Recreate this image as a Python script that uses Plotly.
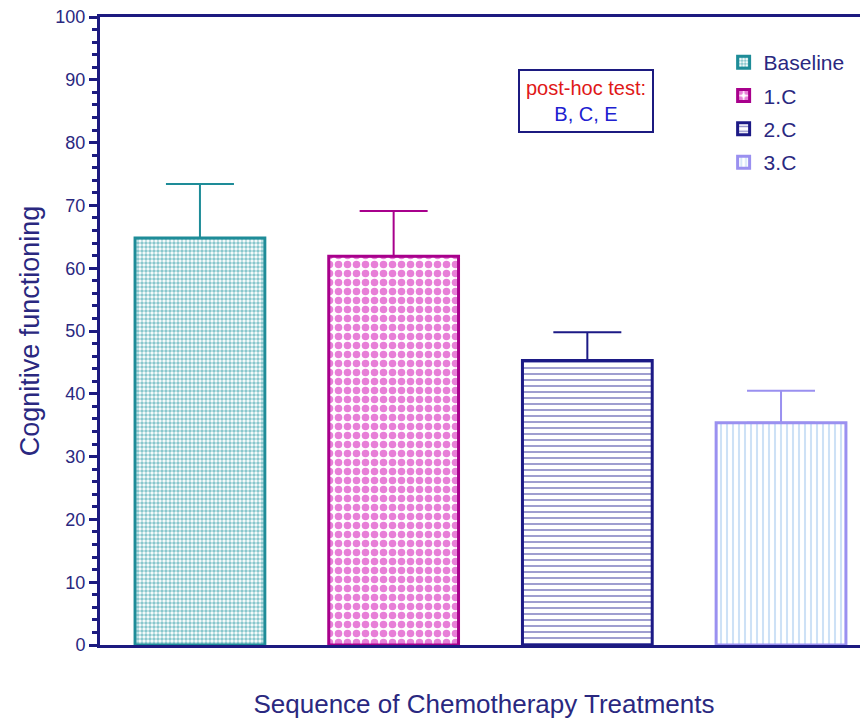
import plotly.graph_objects as go

categories = ["Baseline", "1.C", "2.C", "3.C"]
means = [64.8, 61.9, 45.3, 35.4]
err_upper = [8.6, 7.2, 4.5, 5.1]
y_ticks = [0, 10, 20, 30, 40, 50, 60, 70, 80, 90, 100]

line_colors = ["#1e8c98", "#a8008c", "#1c1a86", "#9a90f0"]
fg_colors = ["#14909c", "#d000b0", "#2a2898", "#9cc4ee"]
shapes_pat = [".", ".", "-", "|"]
pat_sizes = [4, 9, 6, 6]
pat_solid = [0.6, 0.55, 0.3, 0.35]

navy = "#1c1a80"
text_col = "#2a2880"

fig = go.Figure()
for i, c in enumerate(categories):
    fig.add_trace(go.Bar(
        x=[i], y=[means[i]], name=c, width=0.67,
        marker=dict(
            color="white",
            line=dict(color=line_colors[i], width=3),
            pattern=dict(shape=shapes_pat[i], fgcolor=fg_colors[i], bgcolor="white",
                         size=pat_sizes[i], solidity=pat_solid[i], fillmode="overlay"),
        ),
        error_y=dict(type="data", symmetric=False, array=[err_upper[i]], arrayminus=[0],
                     color=line_colors[i], thickness=2, width=34),
        legendgroup=c,
    ))

fig.update_layout(
    width=860, height=713,
    margin=dict(l=92, r=0, t=9, b=76),
    plot_bgcolor="white", paper_bgcolor="white",
    font=dict(family="Liberation Sans, Arial, sans-serif", color=text_col),
    showlegend=True,
    legend=dict(x=0.812, y=0.96, xanchor="left", yanchor="top",
                font=dict(size=21, color=text_col), tracegroupgap=3,
                bgcolor="rgba(0,0,0,0)"),
    xaxis=dict(range=[-0.516, 3.449], showticklabels=False, ticks="",
               showline=True, linecolor=navy, linewidth=3, mirror=True,
               showgrid=False, zeroline=False,
               title=dict(text="Sequence of Chemotherapy Treatments",
                          font=dict(size=26, color=text_col), standoff=48)),
    yaxis=dict(range=[0, 100], tickvals=y_ticks, ticks="outside", ticklen=8,
               tickwidth=3, tickcolor=navy, showline=True, linecolor=navy, linewidth=3,
               showgrid=False, zeroline=False, tickfont=dict(size=18, color=text_col),
               ticklabeloverflow="allow",
               minor=dict(dtick=2, ticks="outside", ticklen=5, tickwidth=3, tickcolor=navy),
               title=dict(text="Cognitive functioning", font=dict(size=27, color=text_col),
                          standoff=8)),
    annotations=[dict(
        x=0.633, y=0.866, xref="paper", yref="paper", xanchor="center", yanchor="middle",
        text="<span style='color:#e01818'>post-hoc test:</span><br><span style='color:#2020d0'>B, C, E</span>",
        showarrow=False, font=dict(size=20), align="center",
        bordercolor=navy, borderwidth=2, borderpad=6, bgcolor="white",
    )],
)

fig.write_html("out.html")
